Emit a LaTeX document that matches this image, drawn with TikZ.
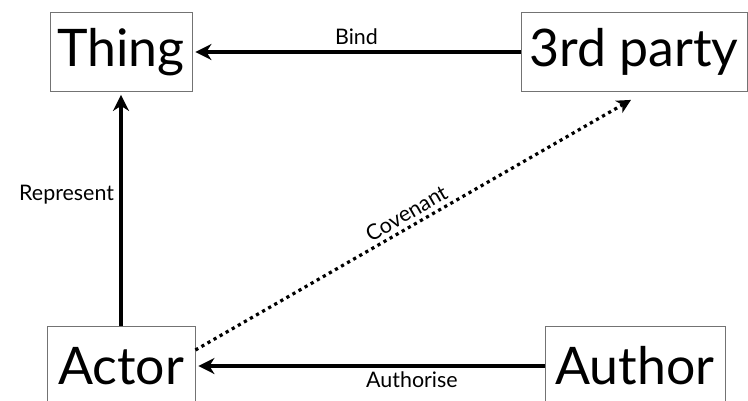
\documentclass[tikz,border=0pt]{standalone}
\usepackage{fontspec}
\setmainfont{Lato}
\usetikzlibrary{arrows.meta,positioning,calc}

\begin{document}
\begin{tikzpicture}[x=1bp,y=1bp,font=\fontsize{21.5}{26}\selectfont,
    box/.style={draw=black!55,line width=0.8pt,fill=white,inner sep=0pt,
                minimum height=79bp,font=\fontsize{52}{60}\selectfont},
    arr/.style={line width=3.4bp,-{Stealth[length=16bp,width=16bp,inset=5bp]},
                shorten >=3bp},
    dots/.style={line width=3.2bp,dash pattern=on 3.2bp off 3.8bp,
                 -{Stealth[length=14bp,width=14bp,inset=4bp]}}]
  \useasboundingbox (0,0) rectangle (748,400);
  % the four parties
  \node[box,minimum width=142bp] (thing)  at (121,348) {Thing};
  \node[box,minimum width=226bp] (party)  at (634,348) {3rd party};
  \node[box,minimum width=148bp] (actor)  at (121,34)  {Actor};
  \node[box,minimum width=180bp] (author) at (635,34)  {Author};
  % relations
  \draw[arr] (party) -- node[above=2bp] {Bind} (thing);
  \draw[arr] (actor) -- node[pos=0.56,left=2bp] {Represent} (thing);
  \draw[arr] (author) -- node[pos=0.38,below=1bp] {Authorise} (actor);
  \draw[dots] ([yshift=16bp]actor.east)
    -- node[midway,above=1bp,sloped] {Covenant} ($(party.south)+(-3,-8)$);
\end{tikzpicture}
\end{document}
